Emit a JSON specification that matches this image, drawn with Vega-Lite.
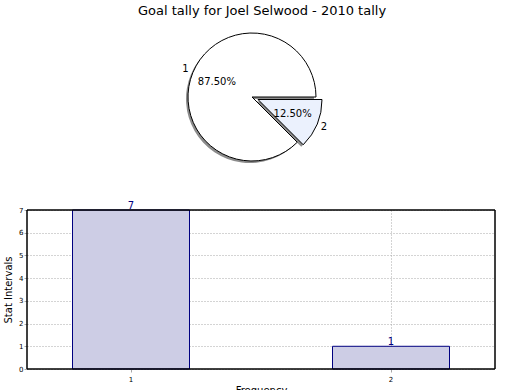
{
  "$schema": "https://vega.github.io/schema/vega-lite/v6.json",
  "padding": {"left": 3, "top": 5, "right": 0, "bottom": 0},
  "config": {
    "font": "DejaVu Sans",
    "view": {"stroke": null},
    "axis": {"labelFont": "DejaVu Sans", "titleFont": "DejaVu Sans", "titleFontWeight": "normal", "labelColor": "black", "titleColor": "black"}
  },
  "datasets": {
    "goals": [
      {"label": "1", "count": 7, "pct": "87.50%"},
      {"label": "2", "count": 1, "pct": "12.50%"}
    ]
  },
  "spacing": 26,
  "vconcat": [
    {
      "width": 450,
      "height": 156,
      "data": {"name": "goals"},
      "title": {"text": "Goal tally for Joel Selwood - 2010 tally", "fontSize": 13, "fontWeight": "normal", "anchor": "middle", "dx": 10, "offset": 1, "color": "black"},
      "encoding": {
        "theta": {"field": "count", "type": "quantitative", "stack": true, "scale": {"range": [1.5708, 7.854]}},
        "order": {"field": "label", "sort": "descending"}
      },
      "layer": [
        {"mark": {"type": "arc", "radius": 64, "fill": "#8c8c8c", "xOffset": -2, "yOffset": 2},
         "encoding": {"opacity": {"condition": {"test": "datum.label == '1'", "value": 1}, "value": 0}}},
        {"mark": {"type": "arc", "radius": 64, "fill": "#8c8c8c", "xOffset": 4, "yOffset": 4.5},
         "encoding": {"opacity": {"condition": {"test": "datum.label == '2'", "value": 1}, "value": 0}}},
        {"mark": {"type": "arc", "radius": 64, "fill": "white", "stroke": "black", "strokeWidth": 1},
         "encoding": {"opacity": {"condition": {"test": "datum.label == '1'", "value": 1}, "value": 0}}},
        {"mark": {"type": "arc", "radius": 64, "fill": "#ebf1fd", "stroke": "black", "strokeWidth": 1, "xOffset": 6, "yOffset": 2.5},
         "encoding": {"opacity": {"condition": {"test": "datum.label == '2'", "value": 1}, "value": 0}}},
        {"mark": {"type": "text", "radius": 38, "fontSize": 10, "color": "black"},
         "encoding": {"text": {"field": "pct"}, "opacity": {"condition": {"test": "datum.label == '1'", "value": 1}, "value": 0}}},
        {"mark": {"type": "text", "radius": 44, "fontSize": 10, "color": "black"},
         "encoding": {"text": {"field": "pct"}, "opacity": {"condition": {"test": "datum.label == '2'", "value": 1}, "value": 0}}},
        {"mark": {"type": "text", "radius": 72, "fontSize": 10, "color": "black"},
         "encoding": {"text": {"field": "label"}, "opacity": {"condition": {"test": "datum.label == '1'", "value": 1}, "value": 0}}},
        {"mark": {"type": "text", "radius": 78, "fontSize": 10, "color": "black"},
         "encoding": {"text": {"field": "label"}, "opacity": {"condition": {"test": "datum.label == '2'", "value": 1}, "value": 0}}}
      ]
    },
    {
      "width": 468,
      "height": 159,
      "data": {"name": "goals"},
      "encoding": {
        "x": {"field": "label", "type": "ordinal",
              "scale": {"paddingInner": 0.55, "paddingOuter": 0.175},
              "axis": {"title": "Frequency", "titleFontSize": 10, "labelAngle": 0, "labelFontSize": 7, "bandPosition": 0.5,
                       "grid": true, "gridDash": [1, 2], "gridColor": "#a8a8a8", "domain": false, "tickColor": "#a8a8a8", "tickSize": 3, "labelPadding": 3, "titlePadding": 3}},
        "y": {"field": "count", "type": "quantitative", "scale": {"domain": [0, 7]},
              "axis": {"title": "Stat Intervals", "titleFontSize": 10, "values": [0, 1, 2, 3, 4, 5, 6, 7], "labelFontSize": 7,
                       "grid": true, "gridDash": [1, 2], "gridColor": "#a8a8a8", "domain": false, "tickColor": "#a8a8a8", "tickSize": 3, "labelPadding": 1, "titlePadding": 5}}
      },
      "layer": [
        {"mark": {"type": "bar", "fill": "#cdcde5", "stroke": "#000080", "strokeWidth": 1}},
        {"mark": {"type": "text", "baseline": "alphabetic", "dy": -1, "fontSize": 10, "color": "#000080"},
         "encoding": {"text": {"field": "count"}}},
        {"mark": {"type": "rect", "fill": null, "stroke": "black", "strokeWidth": 1},
         "encoding": {"x": {"value": 0}, "x2": {"value": 468}, "y": {"value": 0}, "y2": {"value": 159}}}
      ]
    }
  ]
}
